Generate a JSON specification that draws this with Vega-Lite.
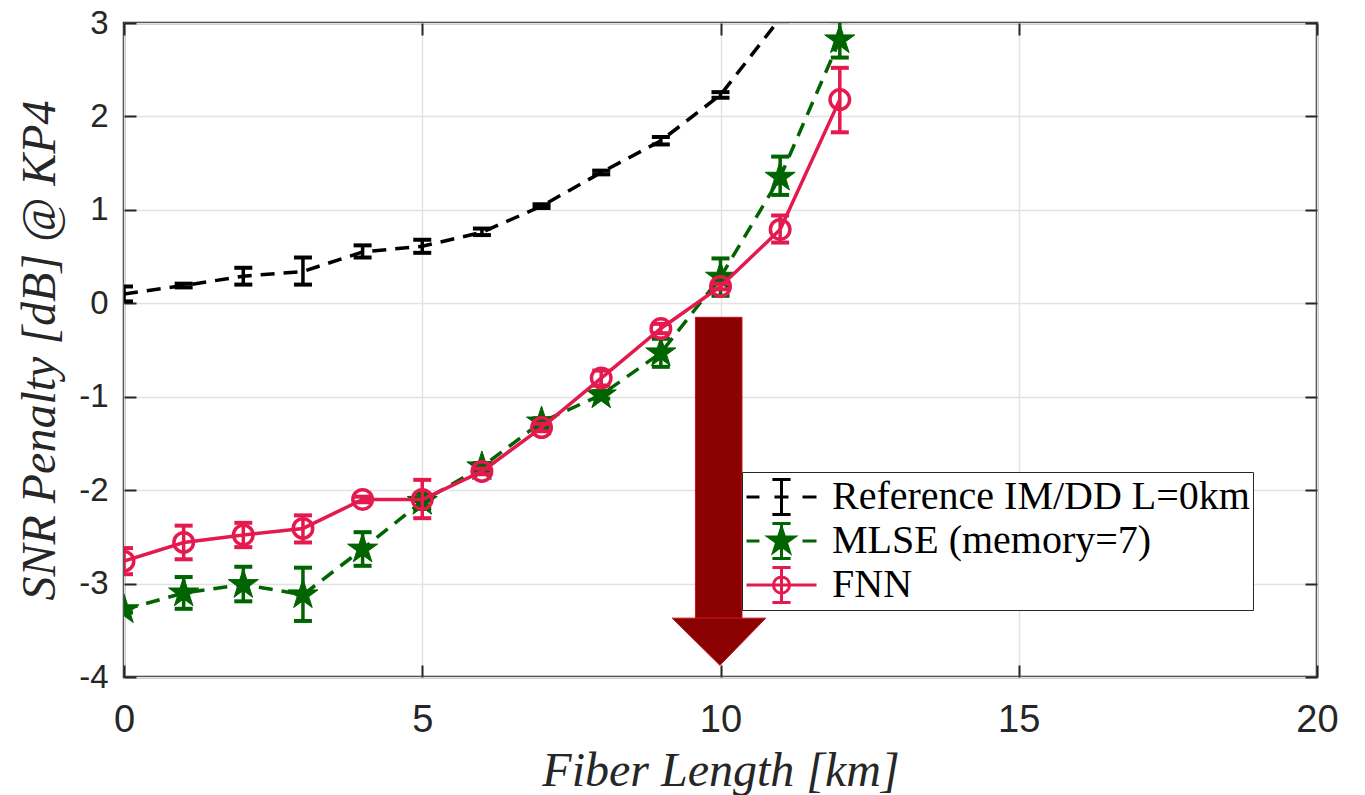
{
  "$schema": "https://vega.github.io/schema/vega-lite/v6.json",
  "width": 1193,
  "height": 654,
  "autosize": {"type": "none"},
  "padding": {"left": 124, "top": 23, "right": 48, "bottom": 118},
  "background": "white",
  "config": {
    "view": {"stroke": "#262626", "strokeWidth": 2.5},
    "axis": {
      "labelFont": "Liberation Sans",
      "labelColor": "#262626",
      "titleFont": "Liberation Serif",
      "titleFontStyle": "italic",
      "titleFontWeight": "normal",
      "titleColor": "#262626",
      "gridColor": "#e2e2e2",
      "gridWidth": 1.5,
      "tickColor": "#262626",
      "tickWidth": 2,
      "domain": false,
      "labelFlush": false
    }
  },
  "datasets": {
    "d": [
      {"s": "ref", "x": 0, "y": 0.10, "lo": 0.02, "hi": 0.18},
      {"s": "ref", "x": 1, "y": 0.19, "lo": 0.17, "hi": 0.21},
      {"s": "ref", "x": 2, "y": 0.29, "lo": 0.20, "hi": 0.38},
      {"s": "ref", "x": 3, "y": 0.34, "lo": 0.20, "hi": 0.49},
      {"s": "ref", "x": 4, "y": 0.55, "lo": 0.49, "hi": 0.62},
      {"s": "ref", "x": 5, "y": 0.61, "lo": 0.54, "hi": 0.68},
      {"s": "ref", "x": 6, "y": 0.76, "lo": 0.73, "hi": 0.80},
      {"s": "ref", "x": 7, "y": 1.04, "lo": 1.02, "hi": 1.06},
      {"s": "ref", "x": 8, "y": 1.40, "lo": 1.38, "hi": 1.42},
      {"s": "ref", "x": 9, "y": 1.74, "lo": 1.70, "hi": 1.78},
      {"s": "ref", "x": 10, "y": 2.23, "lo": 2.20, "hi": 2.26},
      {"s": "ref", "x": 11, "y": 3.05, "lo": 3.02, "hi": 3.08},
      {"s": "ref", "x": 12, "y": 4.0, "lo": 3.95, "hi": 4.05},
      {"s": "mlse", "x": 0, "y": -3.28, "lo": -3.31, "hi": -3.25},
      {"s": "mlse", "x": 1, "y": -3.10, "lo": -3.27, "hi": -2.93},
      {"s": "mlse", "x": 2, "y": -3.01, "lo": -3.19, "hi": -2.82},
      {"s": "mlse", "x": 3, "y": -3.12, "lo": -3.40, "hi": -2.83},
      {"s": "mlse", "x": 4, "y": -2.63, "lo": -2.81, "hi": -2.45},
      {"s": "mlse", "x": 5, "y": -2.12, "lo": -2.20, "hi": -2.04},
      {"s": "mlse", "x": 6, "y": -1.75, "lo": -1.79, "hi": -1.71},
      {"s": "mlse", "x": 7, "y": -1.27, "lo": -1.31, "hi": -1.23},
      {"s": "mlse", "x": 8, "y": -0.98, "lo": -1.02, "hi": -0.94},
      {"s": "mlse", "x": 9, "y": -0.53, "lo": -0.68, "hi": -0.38},
      {"s": "mlse", "x": 10, "y": 0.28, "lo": 0.08, "hi": 0.48},
      {"s": "mlse", "x": 11, "y": 1.35, "lo": 1.16, "hi": 1.57},
      {"s": "mlse", "x": 12, "y": 2.82, "lo": 2.63, "hi": 3.02},
      {"s": "fnn", "x": 0, "y": -2.76, "lo": -2.90, "hi": -2.62},
      {"s": "fnn", "x": 1, "y": -2.56, "lo": -2.74, "hi": -2.38},
      {"s": "fnn", "x": 2, "y": -2.48, "lo": -2.61, "hi": -2.35},
      {"s": "fnn", "x": 3, "y": -2.41, "lo": -2.56, "hi": -2.27},
      {"s": "fnn", "x": 4, "y": -2.10, "lo": -2.13, "hi": -2.07},
      {"s": "fnn", "x": 5, "y": -2.10, "lo": -2.30, "hi": -1.89},
      {"s": "fnn", "x": 6, "y": -1.80, "lo": -1.83, "hi": -1.77},
      {"s": "fnn", "x": 7, "y": -1.33, "lo": -1.37, "hi": -1.29},
      {"s": "fnn", "x": 8, "y": -0.80, "lo": -0.88, "hi": -0.72},
      {"s": "fnn", "x": 9, "y": -0.27, "lo": -0.32, "hi": -0.22},
      {"s": "fnn", "x": 10, "y": 0.18, "lo": 0.15, "hi": 0.21},
      {"s": "fnn", "x": 11, "y": 0.79, "lo": 0.65, "hi": 0.94},
      {"s": "fnn", "x": 12, "y": 2.18, "lo": 1.83, "hi": 2.52}
    ],
    "arrowBody": [{"x": 9.58, "x2": 10.36, "y": -0.15, "y2": -3.37}],
    "arrowHead": [
      {"x": 9.19, "y": -3.37, "y2": -3.37},
      {"x": 9.99, "y": -3.37, "y2": -3.875},
      {"x": 10.76, "y": -3.37, "y2": -3.37}
    ],
    "leg": [
      {"series": "Reference IM/DD L=0km"},
      {"series": "MLSE (memory=7)"},
      {"series": "FNN"}
    ]
  },
  "layer": [
    {
      "layer": [
        {
          "mark": {"type": "rule", "color": "#000000", "strokeWidth": 2.5},
          "encoding": {
            "y": {
              "datum": 0,
              "type": "quantitative",
              "scale": {"domain": [-4, 3]},
              "axis": {
                "values": [-4, -3, -2, -1, 0, 1, 2, 3],
                "grid": true,
                "format": "d",
                "tickSize": -12,
                "labelFontSize": 33,
                "labelPadding": 28,
                "labelExpr": "replace(datum.label, '−', '-')",
                "title": "SNR Penalty [dB] @ KP4",
                "titleFontSize": 48,
                "titlePadding": 14
              }
            }
          }
        },
        {
          "data": {"name": "d"},
          "transform": [{"filter": "datum.s === 'ref'"}],
          "encoding": {
            "x": {
              "field": "x",
              "type": "quantitative",
              "scale": {"domain": [0, 20]},
              "axis": {
                "values": [0, 5, 10, 15, 20],
                "grid": true,
                "format": "d",
                "tickSize": -12,
                "labelFontSize": 38,
                "labelPadding": 36,
                "title": "Fiber Length [km]",
                "titleFontSize": 48,
                "titlePadding": 8
              }
            }
          },
          "layer": [
            {"mark": {"type": "line", "color": "#000000", "strokeWidth": 3.5, "strokeDash": [14, 9], "clip": true},
             "encoding": {"y": {"field": "y", "type": "quantitative"}}},
            {"mark": {"type": "rule", "color": "#000000", "strokeWidth": 3.5, "clip": true},
             "encoding": {"y": {"field": "lo", "type": "quantitative"}, "y2": {"field": "hi"}}},
            {"mark": {"type": "tick", "orient": "horizontal", "color": "#000000", "size": 18, "thickness": 4, "opacity": 1, "clip": true},
             "encoding": {"y": {"field": "lo", "type": "quantitative"}}},
            {"mark": {"type": "tick", "orient": "horizontal", "color": "#000000", "size": 18, "thickness": 4, "opacity": 1, "clip": true},
             "encoding": {"y": {"field": "hi", "type": "quantitative"}}}
          ]
        },
        {
          "data": {"name": "d"},
          "transform": [{"filter": "datum.s === 'mlse'"}],
          "encoding": {"x": {"field": "x", "type": "quantitative"}},
          "layer": [
            {"mark": {"type": "line", "color": "#006400", "strokeWidth": 3.5, "strokeDash": [14, 9], "clip": true},
             "encoding": {"y": {"field": "y", "type": "quantitative"}}},
            {"mark": {"type": "rule", "color": "#006400", "strokeWidth": 3.5, "clip": true},
             "encoding": {"y": {"field": "lo", "type": "quantitative"}, "y2": {"field": "hi"}}},
            {"mark": {"type": "tick", "orient": "horizontal", "color": "#006400", "size": 18, "thickness": 4, "opacity": 1, "clip": true},
             "encoding": {"y": {"field": "lo", "type": "quantitative"}}},
            {"mark": {"type": "tick", "orient": "horizontal", "color": "#006400", "size": 18, "thickness": 4, "opacity": 1, "clip": true},
             "encoding": {"y": {"field": "hi", "type": "quantitative"}}},
            {"mark": {"type": "point", "shape": "M0,-1L0.225,-0.309L0.951,-0.309L0.363,0.118L0.588,0.809L0,0.382L-0.588,0.809L-0.363,0.118L-0.951,-0.309L-0.225,-0.309Z", "size": 1000, "filled": true, "fill": "#006400", "stroke": "#006400", "strokeWidth": 1, "opacity": 1, "clip": true},
             "encoding": {"y": {"field": "y", "type": "quantitative"}}}
          ]
        },
        {
          "data": {"name": "d"},
          "transform": [{"filter": "datum.s === 'fnn'"}],
          "encoding": {"x": {"field": "x", "type": "quantitative"}},
          "layer": [
            {"mark": {"type": "line", "color": "#e41a4f", "strokeWidth": 3.5, "clip": true},
             "encoding": {"y": {"field": "y", "type": "quantitative"}}},
            {"mark": {"type": "rule", "color": "#e41a4f", "strokeWidth": 3.5, "clip": true},
             "encoding": {"y": {"field": "lo", "type": "quantitative"}, "y2": {"field": "hi"}}},
            {"mark": {"type": "tick", "orient": "horizontal", "color": "#e41a4f", "size": 18, "thickness": 4, "opacity": 1, "clip": true},
             "encoding": {"y": {"field": "lo", "type": "quantitative"}}},
            {"mark": {"type": "tick", "orient": "horizontal", "color": "#e41a4f", "size": 18, "thickness": 4, "opacity": 1, "clip": true},
             "encoding": {"y": {"field": "hi", "type": "quantitative"}}},
            {"mark": {"type": "point", "shape": "circle", "size": 380, "filled": false, "stroke": "#e41a4f", "strokeWidth": 3.5, "opacity": 1, "clip": true},
             "encoding": {"y": {"field": "y", "type": "quantitative"}}}
          ]
        },
        {
          "data": {"name": "arrowBody"},
          "mark": {"type": "rect", "fill": "#8b0000", "stroke": "#c0101a", "strokeWidth": 1},
          "encoding": {
            "x": {"field": "x", "type": "quantitative"},
            "x2": {"field": "x2"},
            "y": {"field": "y", "type": "quantitative"},
            "y2": {"field": "y2"}
          }
        },
        {
          "data": {"name": "arrowHead"},
          "mark": {"type": "area", "fill": "#8b0000", "stroke": "#c0101a", "strokeWidth": 1, "opacity": 1},
          "encoding": {
            "x": {"field": "x", "type": "quantitative"},
            "y": {"field": "y", "type": "quantitative"},
            "y2": {"field": "y2"}
          }
        },
        {
          "data": {"name": "leg"},
          "mark": {"type": "point", "opacity": 0, "filled": true},
          "encoding": {
            "shape": {
              "field": "series",
              "type": "nominal",
              "scale": {
                "domain": ["Reference IM/DD L=0km", "MLSE (memory=7)", "FNN"],
                "range": [
                  "M-1,0H-0.63M-0.2,0H0.2M0.6,0H1M0,-0.5V0.5M-0.26,-0.5H0.26M-0.26,0.5H0.26",
                  "M-1,0H-0.63M-0.2,0H0.2M0.6,0H1M0,-0.5V0.5M-0.26,-0.5H0.26M-0.26,0.5H0.26M0,-0.38L0.085,-0.117L0.361,-0.117L0.138,0.045L0.223,0.307L0,0.145L-0.223,0.307L-0.138,0.045L-0.361,-0.117L-0.085,-0.117Z",
                  "M-1,0H1M0,-0.5V0.5M-0.26,-0.5H0.26M-0.26,0.5H0.26M0.23,0A0.23,0.23,0,1,1,-0.23,0A0.23,0.23,0,1,1,0.23,0Z"
                ]
              },
              "legend": {
                "title": null,
                "orient": "none",
                "legendX": 618,
                "legendY": 449,
                "fillColor": "white",
                "strokeColor": "#262626",
                "padding": 3,
                "labelFont": "Liberation Serif",
                "labelFontSize": 40,
                "labelColor": "#000000",
                "labelLimit": 0,
                "labelOffset": 14,
                "symbolSize": 4900,
                "symbolStrokeWidth": 3,
                "symbolOpacity": 1,
                "clipHeight": 44,
                "rowPadding": 0
              }
            },
            "stroke": {
              "field": "series",
              "type": "nominal",
              "scale": {
                "domain": ["Reference IM/DD L=0km", "MLSE (memory=7)", "FNN"],
                "range": ["#000000", "#006400", "#e41a4f"]
              }
            },
            "fill": {
              "field": "series",
              "type": "nominal",
              "scale": {
                "domain": ["Reference IM/DD L=0km", "MLSE (memory=7)", "FNN"],
                "range": ["transparent", "#006400", "transparent"]
              }
            }
          }
        }
      ]
    },
    {
      "data": {"name": "d"},
      "mark": {"type": "point", "opacity": 0, "clip": true},
      "encoding": {
        "x": {
          "field": "x",
          "type": "quantitative",
          "scale": {"domain": [0, 20]},
          "axis": {"orient": "top", "values": [0, 5, 10, 15, 20], "labels": false, "title": null, "tickSize": -12, "grid": false, "domain": false}
        },
        "y": {
          "field": "y",
          "type": "quantitative",
          "scale": {"domain": [-4, 3]},
          "axis": {"orient": "right", "values": [-4, -3, -2, -1, 0, 1, 2, 3], "labels": false, "title": null, "tickSize": -12, "grid": false, "domain": false}
        }
      }
    }
  ],
  "resolve": {"axis": {"x": "independent", "y": "independent"}}
}
